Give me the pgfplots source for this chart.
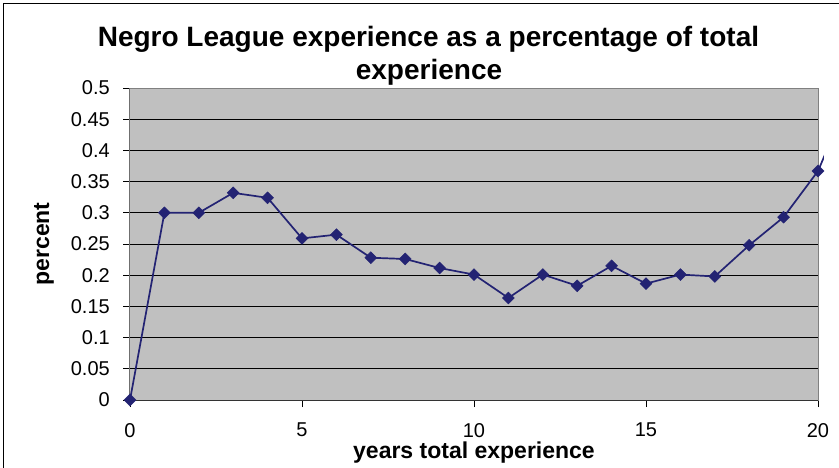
\documentclass[border=0pt]{standalone}
\usepackage{fontspec}
\setmainfont{Liberation Sans}
\usepackage{pgfplots}
\usepackage{pgfplotstable}
\pgfplotsset{compat=1.18}
\definecolor{plotbg}{RGB}{192,192,192}
\definecolor{navyline}{RGB}{35,35,115}
\definecolor{framegray}{RGB}{128,128,128}

% share of Negro League seasons in a player's total experience
\pgfplotstableread{
years share
0  0.000
1  0.300
2  0.300
3  0.332
4  0.324
5  0.259
6  0.265
7  0.228
8  0.226
9  0.2115
10 0.201
11 0.1635
12 0.201
13 0.183
14 0.215
15 0.1865
16 0.201
17 0.198
18 0.248
19 0.293
20 0.367
}\sharedata

\begin{document}
\begin{tikzpicture}[x=1pt,y=1pt]
\useasboundingbox (0,0) rectangle (839,467);
\fill[white] (0,0) rectangle (839,467);
\draw[line width=1.6pt] (3.5,-20) -- (3.5,463.5) -- (860,463.5);

\node[font=\bfseries\fontsize{28}{33}\selectfont, anchor=base] at (428.5,420)
  {Negro League experience as a percentage of total};
\node[font=\bfseries\fontsize{28}{33}\selectfont, anchor=base] at (429,387)
  {experience};

% continuation of the curve past 20 years, cut at the chart edge
\begin{axis}[
  at={(130pt,67pt)}, anchor=south west,
  scale only axis, width=693.9pt, height=312pt,
  xmin=0, xmax=20.17, ymin=0, ymax=0.5,
  hide axis, clip=true]
\addplot[navyline, line width=1.7pt, no markers] coordinates {(20,0.367) (21,0.498)};
\end{axis}

\begin{axis}[
  at={(130pt,67pt)}, anchor=south west,
  scale only axis, width=688pt, height=312pt,
  xmin=0, xmax=20, ymin=0, ymax=0.5,
  axis background/.style={fill=plotbg},
  axis line style={framegray, line width=1pt},
  xtick={0,5,10,15,20},
  ytick={0,0.05,0.1,0.15,0.2,0.25,0.3,0.35,0.4,0.45,0.5},
  yticklabels={0,0.05,0.1,0.15,0.2,0.25,0.3,0.35,0.4,0.45,0.5},
  scaled y ticks=false,
  xtick pos=bottom, ytick pos=left,
  tick align=outside, major tick length=7pt,
  tick style={black, line width=0.8pt},
  ymajorgrids, grid style={black, line width=0.8pt},
  /pgf/number format/assume math mode=true,
  ticklabel style={font=\fontsize{20}{24}\selectfont},
  yticklabel style={inner sep=0pt, xshift=-13pt},
  xticklabel style={inner sep=0pt, yshift=-16pt},
  xlabel={years total experience},
  ylabel={percent},
  label style={font=\bfseries\fontsize{23}{27}\selectfont},
  xlabel style={at={(axis description cs:0.5,-0.188)}, anchor=base, inner sep=0pt},
  ylabel style={at={(axis description cs:-0.125,0.5)}, anchor=center, inner sep=0pt},
]
\addplot[navyline, line width=1.7pt, mark=square*, mark size=4.2pt,
  mark options={rotate=45, solid, fill=navyline, draw=navyline, line width=0.5pt}]
  table[x=years, y=share] {\sharedata};
\draw[black, line width=1pt] (rel axis cs:0,0) -- (rel axis cs:0,1);
\draw[black!80, line width=1pt] (rel axis cs:0,0) -- (rel axis cs:1,0);
\end{axis}
\end{tikzpicture}
\end{document}
